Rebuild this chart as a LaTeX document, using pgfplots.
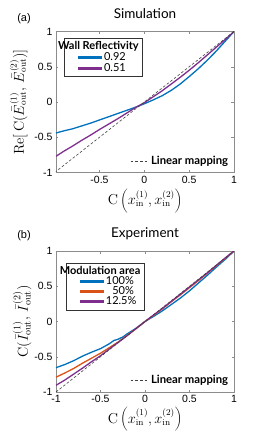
\documentclass[border=0pt]{standalone}
\usepackage{pgfplots}
\pgfplotsset{compat=1.18}
\usepackage[no-math]{fontspec}
\setmainfont{Lato}
\newfontfamily\arialf{Liberation Sans}
\definecolor{mblue}{RGB}{0,114,189}
\definecolor{morange}{RGB}{217,83,25}
\definecolor{mpurple}{RGB}{126,47,142}
\pgfplotsset{
  base/.style={
    scale only axis, width=178pt, height=141pt,
    xmax=1, ymin=-1, ymax=1,
    axis line style={black!45, line width=0.5pt},
    tick align=inside, major tick length=2.5pt,
    tick style={black!45, line width=0.4pt},
    ytick={-1,-0.5,0,0.5,1},
    ticklabel style={font=\arialf\fontsize{10.5}{12}\selectfont},
    /pgf/number format/assume math mode=true,
    title style={font=\fontsize{13.5}{16}\selectfont, at={(axis description cs:0.5,1)}, anchor=base, yshift=7.5pt},
    legend style={font=\fontsize{11}{12}\selectfont, draw=black!80, line width=0.6pt, inner sep=1.5pt, row sep=-2.5pt},
    legend cell align=left,
  },
  limg/.style={legend image code/.code={\fill[#1, opacity=0] (0pt,-0.75pt) rectangle (12pt,0.75pt); \fill[#1] (12pt,-0.75pt) rectangle (35pt,0.75pt);}},
  dashax/.style={
    scale only axis, width=178pt, height=141pt,
    xmax=1, ymin=-1, ymax=1, hide axis,
    legend style={font=\bfseries\fontsize{11.3}{13}\selectfont, draw=none, fill=none, inner sep=1pt},
    legend image code/.code={\draw[#1] (0pt,0pt) -- (18pt,0pt);},
  },
  dstyle/.style={black!75, line width=0.6pt, dash pattern=on 2.6pt off 2pt},
}
\begin{document}
\begin{tikzpicture}
\path[use as bounding box] (0,0) rectangle (257pt,-432pt);
% ---------- (a) Simulation ----------
\begin{axis}[base, at={(56pt,-172.5pt)}, anchor=south west,
  xmin=-0.985, xtick={-0.5,0,0.5,1},
  title={Simulation},
  xlabel={$\mathrm{C}\left(x_{\mathrm{in}}^{(1)},x_{\mathrm{in}}^{(2)}\right)$},
  xlabel style={font=\fontsize{13.5}{15}\selectfont, at={(axis description cs:0.5,-0.2)}, anchor=center},
  ylabel={$\mathrm{Re}\Bigl[\,\mathrm{C}\Bigl(\bar{E}_{\mathrm{out}}^{(1)},\,\bar{E}_{\mathrm{out}}^{(2)}\Bigr)\Bigr]$},
  ylabel style={font=\fontsize{13.5}{15}\selectfont, at={(axis description cs:-0.21,0.5)}, anchor=center},
  legend style={at={(axis description cs:0.045,0.955)}, anchor=north west},
]
\addlegendimage{empty legend}
\addlegendentry{\hspace{-46pt}\textbf{Wall Reflectivity}}
\addplot[mblue, line width=1.3pt, limg] coordinates {
(-0.985,-0.44) (-0.9,-0.41) (-0.8,-0.38) (-0.7,-0.34) (-0.6,-0.30) (-0.5,-0.255) (-0.4,-0.21)
(-0.3,-0.165) (-0.2,-0.12) (-0.1,-0.075) (0,-0.025) (0.1,0.03) (0.2,0.09) (0.3,0.165)
(0.4,0.255) (0.5,0.36) (0.6,0.47) (0.7,0.59) (0.8,0.72) (0.9,0.86) (1,1)};
\addlegendentry{0.92}
\addplot[mpurple, line width=1.3pt, limg] coordinates {
(-0.985,-0.77) (-0.9,-0.70) (-0.8,-0.625) (-0.7,-0.545) (-0.6,-0.47) (-0.5,-0.39) (-0.4,-0.315)
(-0.3,-0.24) (-0.2,-0.16) (-0.1,-0.08) (0,-0.01) (0.1,0.075) (0.2,0.16) (0.3,0.255)
(0.4,0.35) (0.5,0.45) (0.6,0.555) (0.7,0.665) (0.8,0.775) (0.9,0.885) (1,1)};
\addlegendentry{0.51}
\end{axis}
\begin{axis}[dashax, at={(56pt,-172.5pt)}, anchor=south west, xmin=-0.985,
  legend style={at={(axis description cs:0.985,0.025)}, anchor=south east}]
\addplot[dstyle] coordinates {(-1,-1) (1,1)};
\addlegendentry{Linear mapping}
\end{axis}
\node[font=\arialf\fontsize{11}{13}\selectfont] at (24pt,-19pt) {(a)};
% ---------- (b) Experiment ----------
\begin{axis}[base, at={(56pt,-392pt)}, anchor=south west,
  xmin=-1, xtick={-1,-0.5,0,0.5,1},
  title={Experiment},
  xlabel={$\mathrm{C}\left(x_{\mathrm{in}}^{(1)},x_{\mathrm{in}}^{(2)}\right)$},
  xlabel style={font=\fontsize{13.5}{15}\selectfont, at={(axis description cs:0.5,-0.195)}, anchor=center},
  ylabel={$\mathrm{C}\Bigl(\bar{I}_{\mathrm{out}}^{(1)},\,\bar{I}_{\mathrm{out}}^{(2)}\Bigr)$},
  ylabel style={font=\fontsize{14}{15}\selectfont, at={(axis description cs:-0.19,0.5)}, anchor=center},
  legend style={at={(axis description cs:0.055,0.915)}, anchor=north west, row sep=-3.5pt},
]
\addlegendimage{empty legend}
\addlegendentry{\hspace{-46pt}\textbf{Modulation area}}
\addplot[mblue, line width=1.3pt, limg] coordinates {
(-1,-0.655) (-0.9,-0.61) (-0.8,-0.555) (-0.7,-0.49) (-0.6,-0.435) (-0.5,-0.385) (-0.45,-0.35)
(-0.4,-0.315) (-0.35,-0.27) (-0.3,-0.25) (-0.25,-0.22) (-0.2,-0.175) (-0.15,-0.135) (-0.1,-0.095)
(0,0) (0.1,0.075) (0.2,0.155) (0.3,0.245) (0.4,0.335) (0.5,0.435) (0.6,0.545) (0.7,0.655)
(0.8,0.77) (0.9,0.88) (1,1)};
\addlegendentry{100\%}
\addplot[morange, line width=1.3pt, limg] coordinates {
(-1,-0.79) (-0.9,-0.73) (-0.8,-0.665) (-0.7,-0.59) (-0.6,-0.52) (-0.5,-0.45) (-0.4,-0.37)
(-0.3,-0.29) (-0.2,-0.195) (-0.1,-0.1) (0,0) (0.1,0.09) (0.2,0.185) (0.3,0.285) (0.4,0.38)
(0.5,0.48) (0.6,0.58) (0.7,0.685) (0.8,0.79) (0.9,0.895) (1,1)};
\addlegendentry{\phantom{1}50\%}
\addplot[mpurple, line width=1.3pt, limg] coordinates {
(-1,-0.905) (-0.9,-0.83) (-0.8,-0.745) (-0.7,-0.66) (-0.6,-0.57) (-0.5,-0.485) (-0.4,-0.39)
(-0.3,-0.295) (-0.2,-0.2) (-0.1,-0.1) (0,0) (0.1,0.095) (0.2,0.19) (0.3,0.29) (0.4,0.39)
(0.5,0.49) (0.6,0.59) (0.7,0.69) (0.8,0.795) (0.9,0.9) (1,1)};
\addlegendentry{12.5\%}
\end{axis}
\begin{axis}[dashax, at={(56pt,-392pt)}, anchor=south west, xmin=-1,
  legend style={at={(axis description cs:0.985,0.025)}, anchor=south east}]
\addplot[dstyle] coordinates {(-1,-1) (1,1)};
\addlegendentry{Linear mapping}
\end{axis}
\node[font=\arialf\fontsize{11}{13}\selectfont] at (24pt,-236pt) {(b)};
\end{tikzpicture}
\end{document}
